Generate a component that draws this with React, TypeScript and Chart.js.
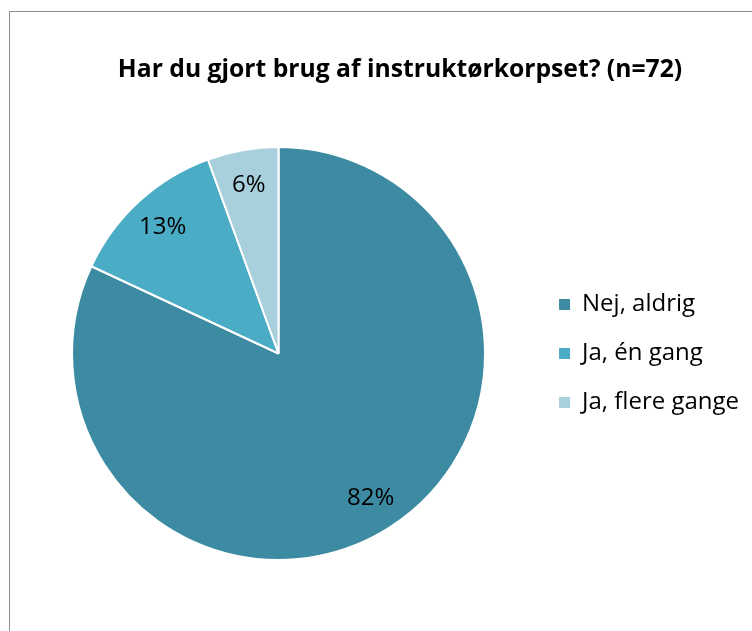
import React, { useEffect, useRef } from "react";
import { Chart, registerables } from "chart.js";

Chart.register(...registerables);

const titleText = "Har du gjort brug af instruktørkorpset? (n=72)";
const categories = ["Nej, aldrig", "Ja, én gang", "Ja, flere gange"];
const counts = [59, 9, 4];
const sliceColors = ["#3D8BA3", "#4BACC6", "#A8CFDC"];

const FONT = "'Open Sans', 'Liberation Sans', sans-serif";

const pieLabels = {
  id: "pieLabels",
  afterDatasetsDraw(chart: any) {
    const meta = chart.getDatasetMeta(0);
    const data = chart.data.datasets[0].data as number[];
    const total = data.reduce((a, b) => a + b, 0);
    const ctx = chart.ctx;
    ctx.save();
    ctx.font = `24px ${FONT}`;
    ctx.fillStyle = "#000";
    ctx.textAlign = "center";
    ctx.textBaseline = "middle";
    meta.data.forEach((arc: any, i: number) => {
      const p = arc.getProps(["x", "y", "startAngle", "endAngle", "outerRadius"], true);
      const mid = (p.startAngle + p.endAngle) / 2;
      const r = p.outerRadius * 0.83;
      const pct = Math.round((data[i] / total) * 100) + "%";
      ctx.fillText(pct, p.x + Math.cos(mid) * r, p.y + Math.sin(mid) * r);
    });
    ctx.restore();
  },
};

// center the title over the whole canvas rather than the padded layout box
const centerTitle = {
  id: "centerTitle",
  afterLayout(chart: any) {
    const t = chart.titleBlock;
    if (t) {
      t.left = 0;
      t.right = chart.width;
      t.width = chart.width;
    }
  },
};

export default function App() {
  const ref = useRef<HTMLCanvasElement | null>(null);
  useEffect(() => {
    if (!ref.current) return;
    const chart = new Chart(ref.current, {
      type: "pie",
      data: {
        labels: categories,
        datasets: [
          {
            data: counts,
            backgroundColor: sliceColors,
            borderColor: "#ffffff",
            borderWidth: 2,
          },
        ],
      },
      options: {
        animation: false,
        responsive: false,
        maintainAspectRatio: false,
        layout: { padding: { left: 13, right: 41, top: 0, bottom: 71 } },
        plugins: {
          title: {
            display: true,
            text: titleText,
            color: "#000",
            font: { family: FONT, size: 24.7, weight: "bold", lineHeight: 1.2 },
            padding: { top: 43, bottom: 61.4 },
          },
          legend: {
            display: true,
            position: "right",
            fullSize: false,
            labels: {
              color: "#000",
              font: { family: FONT, size: 24 },
              boxWidth: 11,
              boxHeight: 11,
              padding: 25,
              generateLabels(chart: any) {
                const items = Chart.overrides.pie.plugins.legend.labels.generateLabels(chart);
                return items.map((it: any) => ({ ...it, lineWidth: 0, strokeStyle: "rgba(0,0,0,0)" }));
              },
            },
          },
          tooltip: { enabled: false },
        },
      },
      plugins: [pieLabels, centerTitle],
    });
    return () => chart.destroy();
  }, []);
  return (
    <div style={{ position: "fixed", left: 0, top: 0, width: 752, height: 631, overflow: "hidden", background: "#fff" }}>
      <div
        style={{
          position: "absolute",
          left: 9,
          top: 11,
          width: 800,
          height: 700,
          borderLeft: "1px solid #8c8c8c",
          borderTop: "1px solid #8c8c8c",
        }}
      >
        <canvas ref={ref} width={780} height={620} style={{ display: "block", width: 780, height: 620 }} />
      </div>
    </div>
  );
}
